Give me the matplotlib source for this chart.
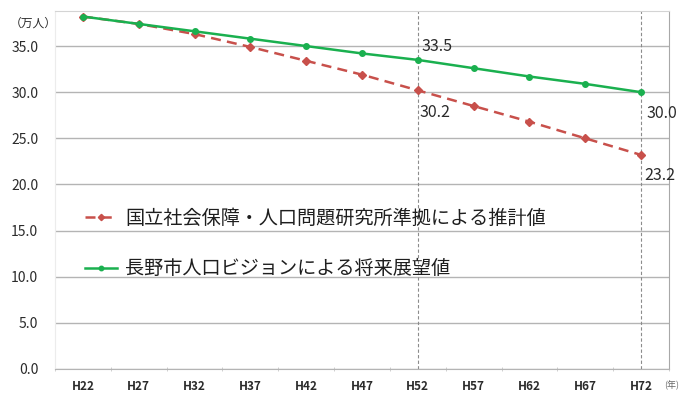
import matplotlib.pyplot as plt
import numpy as np

plt.rcParams['font.family'] = ['Noto Sans CJK JP', 'DejaVu Sans']

years = ['H22', 'H27', 'H32', 'H37', 'H42', 'H47', 'H52', 'H57', 'H62', 'H67', 'H72']
ipss = [38.2, 37.4, 36.3, 34.9, 33.4, 31.9, 30.2, 28.5, 26.8, 25.0, 23.2]
vision = [38.2, 37.4, 36.6, 35.8, 35.0, 34.2, 33.5, 32.6, 31.7, 30.9, 30.0]
ipss_label = '国立社会保障・人口問題研究所準拠による推計値'
vision_label = '長野市人口ビジョンによる将来展望値'
marked = [6, 10]  # H52, H72

red = '#c8504b'
green = '#1ab04f'
grid_c = '#b4b4b4'
txt_c = '#2b2b2b'

fig = plt.figure(figsize=(6.84, 4.01), dpi=100)
ax = fig.add_axes([55 / 684, 32 / 401, 614 / 684, 358 / 401])

x = np.arange(len(years))
ax.plot(x, ipss, color=red, lw=1.8, ls=(0, (4, 2.5)), marker='D', ms=4,
        label=ipss_label, zorder=3)
ax.plot(x, vision, color=green, lw=1.8, marker='o', ms=4,
        label=vision_label, zorder=4)

# value labels: (dx, dy) offsets in points for each series
vision_off = {6: (3, 10), 10: (4, -15)}
ipss_off = {6: (1, -16), 10: (2, -15)}
for i in marked:
    ax.axvline(i, color='#8c8c8c', lw=0.8, ls=(0, (3, 2)), zorder=1)
    ax.annotate(f'{vision[i]:.1f}', (i, vision[i]), xytext=vision_off[i],
                textcoords='offset points', fontsize=11.5, color=txt_c,
                ha='left', va='center', annotation_clip=False)
    ax.annotate(f'{ipss[i]:.1f}', (i, ipss[i]), xytext=ipss_off[i],
                textcoords='offset points', fontsize=11.5, color=txt_c,
                ha='left', va='center', annotation_clip=False)

ax.set_xlim(-0.5, len(years) - 0.5)
ax.set_ylim(0, 38.8)
ax.set_yticks(np.arange(0, 36, 5))
ax.set_yticklabels([f'{v:.1f}' for v in np.arange(0, 36, 5)])
ax.yaxis.grid(True, color=grid_c, lw=1)
ax.set_axisbelow(True)
ax.tick_params(axis='y', length=0, labelsize=10, labelcolor=txt_c, pad=12)

ax.set_xticks(x)
ax.set_xticklabels(years)
ax.set_xticks(np.arange(-0.5, len(years)), minor=True)
ax.tick_params(axis='x', which='major', length=0, labelsize=8.5,
               labelcolor=txt_c, pad=8)
ax.tick_params(axis='x', which='minor', length=3, direction='inout',
               color='#c8c8c8')
for lbl in ax.get_xticklabels():
    lbl.set_fontweight('bold')

ax.spines['left'].set_color('#ececec')
ax.spines['top'].set_color('#d4d4d4')
ax.spines['right'].set_color('#a8a8a8')
ax.spines['bottom'].set_color(grid_c)

fig.text(10 / 684, 1 - 23 / 401, '（万人）', fontsize=8.5, color=txt_c,
         va='center', ha='left')
fig.text(664 / 684, 1 - 385 / 401, '(年)', fontsize=6.5, color='#666666',
         va='center', ha='left')

leg = ax.legend(loc='upper left', bbox_to_anchor=(75 / 684, 1 - 198 / 401),
                bbox_transform=fig.transFigure, frameon=False, fontsize=13.8,
                handlelength=1.7, handletextpad=0.4, labelspacing=1.55,
                borderpad=0, markerscale=0.8)
for t in leg.get_texts():
    t.set_color('#1e1e1e')

fig.savefig('out.png', dpi=100)
